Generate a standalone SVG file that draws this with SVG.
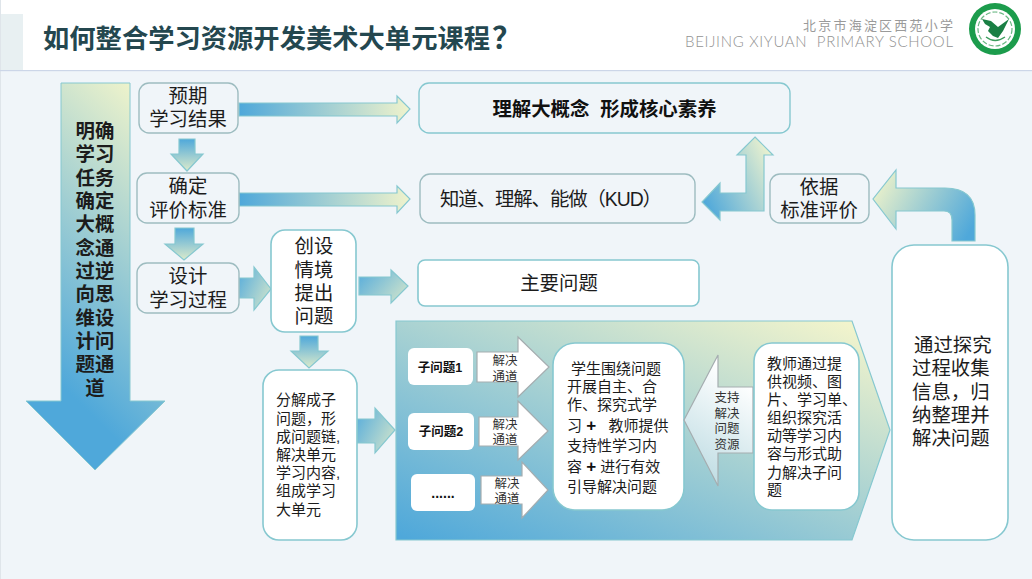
<svg xmlns="http://www.w3.org/2000/svg" width="1032" height="579" viewBox="0 0 1032 579">
<style>
text{font-family:"Liberation Sans","Noto Sans CJK SC",sans-serif;fill:#1c1c1c}
.c{text-anchor:middle}
.s19{font-size:19.4px}.s20{font-size:19.4px}.s15{font-size:15px}.s12{font-size:12.5px;fill:#333}
.b{font-weight:700;fill:#111}
.box{fill:#f0f5f9;stroke:#9dbcc0;stroke-width:1.4}
.tb{fill:#f0f5f9;stroke:#86c8d0;stroke-width:1.4}
.wb{fill:#fff;stroke:#86c8d0;stroke-width:1.6}
.pl{fill:#fff}
.wa{fill:#fff;stroke:#a5adb0;stroke-width:1.2}
.ah{fill:url(#gh);stroke:#86c8d0;stroke-width:1.2}
.av{fill:url(#gv);stroke:#86c8d0;stroke-width:1.2}
</style>
<defs>
<linearGradient id="gh" x1="0" y1="0" x2="1" y2="0"><stop offset="0" stop-color="#4fa8da"/><stop offset="1" stop-color="#f0f3cc"/></linearGradient>
<linearGradient id="gv" x1="0" y1="0" x2="0" y2="1"><stop offset="0" stop-color="#4fa8da"/><stop offset="1" stop-color="#dcebcb"/></linearGradient>
<linearGradient id="gsm" x1="0" y1="0.2" x2="1" y2="0.8"><stop offset="0" stop-color="#5fb0da"/><stop offset="1" stop-color="#cfe4cc"/></linearGradient>
<linearGradient id="gbig" x1="0.75" y1="0" x2="0.45" y2="0.85"><stop offset="0" stop-color="#eef3cb"/><stop offset="1" stop-color="#4fa8da"/></linearGradient>
<linearGradient id="gpent" x1="0.03" y1="1" x2="0.9" y2="0"><stop offset="0" stop-color="#4fa8da"/><stop offset="1" stop-color="#f2f4cc"/></linearGradient>
<linearGradient id="gbent" x1="0" y1="0.75" x2="1" y2="0.2"><stop offset="0" stop-color="#4fa8da"/><stop offset="1" stop-color="#eef3cf"/></linearGradient>
<linearGradient id="gcurve" gradientUnits="userSpaceOnUse" x1="968" y1="235" x2="880" y2="185"><stop offset="0" stop-color="#4fa8da"/><stop offset="1" stop-color="#e6efcb"/></linearGradient>
<linearGradient id="gsup" x1="0.6" y1="0.1" x2="0.3" y2="1"><stop offset="0" stop-color="#fff"/><stop offset="1" stop-color="#bcdbe2"/></linearGradient>
</defs>

<rect width="1032" height="579" fill="#f0f5f9"/>
<rect width="1" height="579" fill="#dfe5ea"/>
<g id="header">
<rect x="1" width="1031" height="70" fill="#fff"/>
<rect x="1" y="14" width="22" height="56" fill="#e8f0f2"/>
<rect x="0" y="70" width="1032" height="1.2" fill="#ccd6e8"/>
<text x="43" y="48" font-size="26.3" font-weight="700" style="fill:#24474f">如何整合学习资源开发美术大单元课程<tspan dx="2" font-size="30">？</tspan></text>
<text x="803" y="30" font-size="13" style="fill:#9a9a9a" textLength="150">北京市海淀区西苑小学</text>
<text x="685" y="47" font-size="15" style="fill:#929292;font-family:Lato,'Liberation Sans',sans-serif;font-weight:300" textLength="268" xml:space="preserve">BEIJING XIYUAN  PRIMARY SCHOOL</text>
</g>
<g id="logo">
<circle cx="995" cy="29" r="26" fill="#1c9c4c"/>
<circle cx="995" cy="29" r="20" fill="#fff"/>
<circle cx="995" cy="29" r="17" fill="none" stroke="#6bb884" stroke-width="1.2" stroke-dasharray="5 2"/>
<path d="M982 19 L991 21 L998 27 L1009 19 L1003 31 L998 38 L993 36 L988 31 L990 27 L985 24 Z" fill="#1a7f44"/>
<path d="M986 37 Q995 44 1005 37" fill="none" stroke="#3b9c5c" stroke-width="1.3"/>
</g>

<g id="connectors">
<path class="ah" d="M239 103H397V96L410 109L397 123V116H239Z"/>
<path class="ah" d="M239 193H397V186L410 199L397 213V206H239Z"/>
<path class="av" d="M179 139H195V154H203L187 171L171 154H179Z"/>
<path class="av" d="M175 228H194V244H203L184 260L165 244H175Z"/>
<path class="ah" d="M239 278H254V267L271 289L254 310V298H239Z" style="fill:url(#gsm)"/>
<path class="ah" d="M359 277H391V270L408 286L391 303V295H359Z" style="fill:url(#gsm)"/>
<path class="av" d="M300 336H318V351H328L309 368L291 351H300Z"/>
<path class="ah" d="M357 419H375V408L395 430L375 453V443H357Z" style="fill:url(#gsm)"/>
<path d="M755 137L773 155H764V211H720V220L702 202L720 183V193H746V155H737Z" fill="url(#gbent)" stroke="#86c8d0" stroke-width="1.2"/>
<path d="M975 241V215Q975 188 945 188H896V170L873 199L896 229V211H944Q952 211 952 220V241Z" fill="url(#gcurve)" stroke="#86c8d0" stroke-width="1.2"/>
</g>

<g id="goal-arrow">
<path d="M61 83H130V401H165L95 470L26 401H61Z" fill="url(#gbig)" stroke="#86c8d0" stroke-width="1"/>
<g class="s19 b">
<text class="c" x="95" y="138">明确</text>
<text class="c" x="95" y="161">学习</text>
<text class="c" x="95" y="185">任务</text>
<text class="c" x="95" y="208">确定</text>
<text class="c" x="95" y="231">大概</text>
<text class="c" x="95" y="255">念通</text>
<text class="c" x="95" y="278">过逆</text>
<text class="c" x="95" y="301">向思</text>
<text class="c" x="95" y="325">维设</text>
<text class="c" x="95" y="348">计问</text>
<text class="c" x="95" y="371">题通</text>
<text class="c" x="95" y="395">道</text>
</g>
</g>

<g id="n-expected" class="s19">
<rect class="box" x="139" y="83" width="99" height="50" rx="10"/>
<text class="c" x="188" y="103">预期</text>
<text class="c" x="188" y="126">学习结果</text>
</g>
<g id="n-criteria" class="s19">
<rect class="box" x="137" y="173" width="102" height="50" rx="10"/>
<text class="c" x="188" y="193">确定</text>
<text class="c" x="188" y="217">评价标准</text>
</g>
<g id="n-design" class="s19">
<rect class="box" x="137" y="263" width="102" height="50" rx="10"/>
<text class="c" x="188" y="283">设计</text>
<text class="c" x="188" y="307">学习过程</text>
</g>
<g id="n-bigidea">
<rect class="tb" x="419" y="83" width="371" height="50" rx="10"/>
<text class="c s19 b" x="604.5" y="116" xml:space="preserve">理解大概念  形成核心素养</text>
</g>
<g id="n-kud">
<rect class="box" x="420" y="174" width="275" height="49" rx="10"/>
<text class="s19" x="440" y="206" textLength="222">知道、理解、能做（KUD）</text>
</g>
<g id="n-mainq">
<rect class="wb" x="418" y="260" width="281" height="46" rx="7"/>
<text class="c s19" x="559" y="290">主要问题</text>
</g>
<g id="n-standard" class="s19">
<rect class="box" x="770" y="174" width="99" height="49" rx="10"/>
<text class="c" x="819" y="194">依据</text>
<text class="c" x="819" y="217">标准评价</text>
</g>
<g id="n-situation" class="s20">
<rect class="wb" x="271" y="230" width="85" height="102" rx="14"/>
<text class="c" x="314" y="253">创设</text>
<text class="c" x="314" y="277">情境</text>
<text class="c" x="314" y="300">提出</text>
<text class="c" x="314" y="323">问题</text>
</g>
<g id="n-decompose" class="s15">
<rect class="wb" x="263" y="370" width="94" height="170" rx="16"/>
<text x="276" y="405">分解成子</text>
<text x="276" y="424">问题，形</text>
<text x="276" y="442">成问题链,</text>
<text x="276" y="460">解决单元</text>
<text x="276" y="478">学习内容,</text>
<text x="276" y="496">组成学习</text>
<text x="276" y="515">大单元</text>
</g>
<g id="n-inquiry" class="s20">
<rect class="wb" x="892" y="245" width="116" height="295" rx="22"/>
<text x="914" y="352">通过探究</text>
<text x="912" y="375">过程收集</text>
<text x="912" y="399">信息，归</text>
<text x="912" y="422">纳整理并</text>
<text x="912" y="445">解决问题</text>
</g>

<g id="unit-panel">
<path d="M396 321H852L890 430L852 540H396Z" fill="url(#gpent)" stroke="#86c8d0" stroke-width="1.2"/>
</g>
<g id="n-sub1">
<rect class="pl" x="408" y="348" width="65" height="37" rx="6"/>
<text class="c b" x="440" y="372" font-size="12.5">子问题1</text>
</g>
<g id="n-sub2">
<rect class="pl" x="408" y="413" width="66" height="37" rx="6"/>
<text class="c b" x="441" y="436" font-size="12.5">子问题2</text>
</g>
<g id="n-sub3">
<rect class="pl" x="411" y="474" width="64" height="37" rx="6"/>
<text class="c b" x="443" y="498" font-size="14">......</text>
</g>
<g id="a-path1">
<path class="wa" d="M477 352H518V337L549 367L518 397V382H477Z"/>
<text class="c s12" x="505" y="365">解决</text>
<text class="c s12" x="505" y="381">通道</text>
</g>
<g id="a-path2">
<path class="wa" d="M479 417H518V401L548 431L518 460V446H479Z"/>
<text class="c s12" x="505" y="429">解决</text>
<text class="c s12" x="505" y="444">通道</text>
</g>
<g id="a-path3">
<path class="wa" d="M481 476H522V462L548 490L522 518V504H481Z"/>
<text class="c s12" x="507" y="488">解决</text>
<text class="c s12" x="507" y="503">通道</text>
</g>
<g id="n-students" class="s15">
<rect class="wb" x="553" y="343" width="131" height="167" rx="22"/>
<text x="571" y="374">学生围绕问题</text>
<text x="567" y="392">开展自主、合</text>
<text x="567" y="410">作、探究式学</text>
<text x="567" y="431" xml:space="preserve">习 <tspan class="b" font-size="17">+</tspan>   教师提供</text>
<text x="567" y="451">支持性学习内</text>
<text x="567" y="472" xml:space="preserve">容 <tspan class="b" font-size="17">+</tspan> 进行有效</text>
<text x="567" y="492">引导解决问题</text>
</g>
<g id="a-support">
<path d="M684 420L718 355V387H753V453H718V486Z" fill="url(#gsup)" stroke="#a5adb0" stroke-width="1.2"/>
<text class="c s12" x="727" y="402">支持</text>
<text class="c s12" x="727" y="418">解决</text>
<text class="c s12" x="727" y="433">问题</text>
<text class="c s12" x="727" y="449">资源</text>
</g>
<g id="n-teacher" class="s15">
<rect class="wb" x="754" y="343" width="105" height="167" rx="18"/>
<text x="767" y="369">教师通过提</text>
<text x="767" y="387">供视频、图</text>
<text x="767" y="405">片、学习单、</text>
<text x="767" y="423">组织探究活</text>
<text x="767" y="441">动等学习内</text>
<text x="767" y="459">容与形式助</text>
<text x="767" y="478">力解决子问</text>
<text x="767" y="495">题</text>
</g>
</svg>
